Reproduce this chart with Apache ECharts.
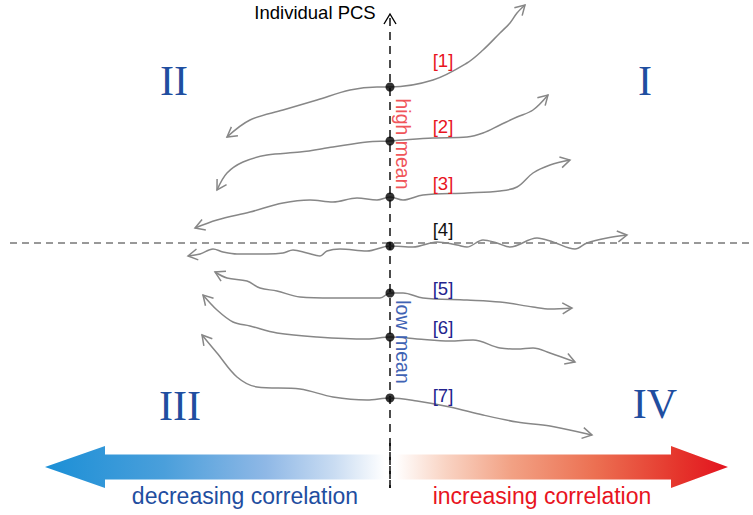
<!DOCTYPE html>
<html><head><meta charset="utf-8">
<script src="https://cdn.jsdelivr.net/npm/echarts@6/dist/echarts.min.js"></script>
<style>html,body{margin:0;padding:0;background:#fff}#c{width:753px;height:515px}</style>
</head><body><div id="c"></div>
<script>
// Curves: x = correlation offset from the PCS axis, y = PCS offset from the mean line
const curve1 = [[-163,106],[-140,123],[-107,133],[-73,143],[-40,153],[-13,156],[0,156],[43,163],[77,180],[93,193],[110,210],[120,220],[127,230],[135,238]];
const curve2 = [[-173,53],[-163,70],[-147,81],[-123,88],[-90,91],[-57,96],[-23,101],[0,102],[43,105],[77,106],[93,110],[110,118],[127,126],[143,133],[158,148]];
const curve3 = [[-195,15],[-173,23],[-140,31],[-107,40],[-80,43],[-57,41],[-33,45],[-13,43],[0,46],[13,43],[33,48],[77,50],[110,52],[127,56],[143,70],[160,78],[180,83]];
const curve4 = [[-202,-13],[-190,-11],[-177,-6],[-167,-9],[-153,-11],[-123,-11],[-107,-10],[-97,-7],[-83,-10],[-70,-13],[-63,-8],[-50,-6],[-23,-8],[0,-3],[23,-4],[47,1],[67,-2],[77,-4],[93,3],[107,0],[120,-4],[147,5],[163,1],[185,-6],[197,0],[217,5],[237,8]];
const curve5 = [[-175,-29],[-163,-35],[-143,-38],[-130,-45],[-113,-48],[-90,-54],[-57,-55],[-10,-55],[0,-50],[13,-50],[33,-55],[77,-57],[110,-59],[143,-64],[160,-66],[182,-65]];
const curve6 = [[-187,-52],[-173,-67],[-157,-79],[-140,-83],[-113,-90],[-73,-94],[-23,-96],[0,-94],[27,-96],[60,-98],[83,-97],[110,-105],[127,-106],[143,-105],[160,-110],[185,-119]];
const curve7 = [[-188,-92],[-173,-110],[-153,-134],[-133,-144],[-90,-146],[-57,-154],[-23,-157],[0,-155],[27,-158],[60,-164],[93,-172],[127,-179],[160,-183],[202,-192]];
const curves = [curve1, curve2, curve3, curve4, curve5, curve6, curve7];
const meanPCS = [156, 102, 46, -3, -50, -94, -155];
const curveNames = ['[1]', '[2]', '[3]', '[4]', '[5]', '[6]', '[7]'];
const curveLabelY = [183, 117, 60, 14, -45, -84, -152];
const quadrants = ['II', 'I', 'III', 'IV'];
const correlationRange = [-345, 338];

const axisX = [-380, 363];
const axisY = [-245, 226];

const labelColors = ['#e8141e','#e8141e','#e8141e','#111111','#23238e','#23238e','#23238e'];
const quadPos = [[-216,162],[255,162],[-210,-163],[265,-161]];

const texts = [
  {t:'Individual PCS', p:[-75,231], c:'#000', f:'18.5px "Liberation Sans"'},
  {t:'high mean', p:[13,99], c:'#f0555a', f:'19.5px "Liberation Sans"', r:-Math.PI/2},
  {t:'low mean', p:[13,-99], c:'#3f63b4', f:'19.5px "Liberation Sans"', r:-Math.PI/2},
  {t:'decreasing correlation', p:[-145,-253], c:'#1f4ea0', f:'23px "Liberation Sans"'},
  {t:'increasing correlation', p:[152,-253], c:'#e8141e', f:'23px "Liberation Sans"'}
];
curveNames.forEach((n,i)=>texts.push({t:n, p:[53,curveLabelY[i]], c:labelColors[i], f:'18.5px "Liberation Sans"'}));
quadrants.forEach((q,i)=>texts.push({t:q, p:quadPos[i], c:'#1f4ea0', f:'42px "Liberation Serif"'}));

const arrowData = [];
curves.forEach(c => {
  arrowData.push([c[0][0], c[0][1], c[1][0], c[1][1]]);
  const n = c.length;
  arrowData.push([c[n-1][0], c[n-1][1], c[n-2][0], c[n-2][1]]);
});

const chart = echarts.init(document.getElementById('c'), null, {renderer:'svg'});
const GRAY = '#878787';

const series = [];
series.push({type:'line', data:[[axisX[0],0],[axisX[1],0]], symbol:'none', silent:true,
  lineStyle:{color:'#333', width:1, type:[7,5]}, z:1});
series.push({type:'line', data:[[0,axisY[0]],[0,axisY[1]]], symbol:'none', silent:true,
  lineStyle:{color:'#000', width:1.4, type:[8,6]}, z:1});
// top chevron of PCS axis
series.push({type:'custom', data:[[0,axisY[1]+3]], silent:true, z:3,
  renderItem:(p,api)=>{const c=api.coord([api.value(0),api.value(1)]);
    return {type:'polyline', shape:{points:[[c[0]-6,c[1]+10],[c[0],c[1]],[c[0]+6,c[1]+10]]},
      style:{stroke:'#000', lineWidth:1.4, fill:'none'}};}});
curves.forEach((c,i)=>series.push({type:'line', data:c, smooth:0.35, symbol:'none', silent:true,
  lineStyle:{color:GRAY, width:1.5}, z:2}));
series.push({type:'custom', data:arrowData, silent:true, z:2,
  renderItem:(p,api)=>{
    const a=api.coord([api.value(0),api.value(1)]), b=api.coord([api.value(2),api.value(3)]);
    let dx=a[0]-b[0], dy=a[1]-b[1]; const L=Math.hypot(dx,dy)||1; dx/=L; dy/=L;
    const len=11, th=Math.PI/6;
    const rot=(x,y,t)=>[x*Math.cos(t)-y*Math.sin(t), x*Math.sin(t)+y*Math.cos(t)];
    const r1=rot(-dx,-dy,th), r2=rot(-dx,-dy,-th);
    return {type:'polyline', shape:{points:[[a[0]+r1[0]*len,a[1]+r1[1]*len],a,[a[0]+r2[0]*len,a[1]+r2[1]*len]]},
      style:{stroke:GRAY, lineWidth:1.5, fill:'none'}};
  }});
series.push({type:'scatter', data:meanPCS.map(v=>[0,v]), symbolSize:9, silent:true,
  itemStyle:{color:'#000'}, z:5});
// bottom double arrow
series.push({type:'custom', data:[[correlationRange[0], correlationRange[1], -224]], silent:true, z:1,
  renderItem:(p,api)=>{
    const l=api.coord([api.value(0),api.value(2)]), r=api.coord([api.value(1),api.value(2)]);
    const c0=api.coord([0,api.value(2)]);
    const yc=l[1], hh=21, sh=12.5, hl=60, gap=5;
    const lx=l[0], rx=r[0], le=c0[0]-gap, rs=c0[0]+gap;
    return {type:'group', children:[
      {type:'polygon', shape:{points:[[lx,yc],[lx+hl,yc-hh],[lx+hl,yc-sh],[le,yc-sh],[le,yc+sh],[lx+hl,yc+sh],[lx+hl,yc+hh]]},
        style:{fill:{type:'linear',x:0,y:0,x2:1,y2:0,colorStops:[
          {offset:0,color:'#1b8fd6'},{offset:0.35,color:'#4a9fdb'},{offset:0.65,color:'#8fb8e6'},{offset:0.85,color:'#c9dcf2'},{offset:1,color:'#ffffff'}]}}},
      {type:'polygon', shape:{points:[[rx,yc],[rx-hl+3,yc-hh],[rx-hl+3,yc-sh],[rs,yc-sh],[rs,yc+sh],[rx-hl+3,yc+sh],[rx-hl+3,yc+hh]]},
        style:{fill:{type:'linear',x:0,y:0,x2:1,y2:0,colorStops:[
          {offset:0,color:'#ffffff'},{offset:0.15,color:'#f9d4c4'},{offset:0.35,color:'#f2a184'},{offset:0.6,color:'#ec7052'},{offset:0.85,color:'#e5352c'},{offset:1,color:'#e3131f'}]}}}
    ]};
  }});
series.push({type:'line', data:[[0,-200],[0,axisY[0]]], symbol:'none', silent:true,
  lineStyle:{color:'#000', width:1.4, type:[8,6]}, z:4});
series.push({type:'custom', data:texts.map((t,i)=>[t.p[0],t.p[1],i]), silent:true, z:6,
  renderItem:(p,api)=>{const t=texts[api.value(2)]; const c=api.coord([api.value(0),api.value(1)]);
    return {type:'text', x:c[0], y:c[1], rotation:t.r||0,
      style:{text:t.t, fill:t.c, font:t.f, align:'center', verticalAlign:'middle'}};}});

chart.setOption({
  animation:false,
  grid:{left:0,right:0,top:0,bottom:0},
  xAxis:{type:'value', min:-390, max:363, show:false},
  yAxis:{type:'value', min:-272, max:243, show:false},
  series
});
</script></body></html>
